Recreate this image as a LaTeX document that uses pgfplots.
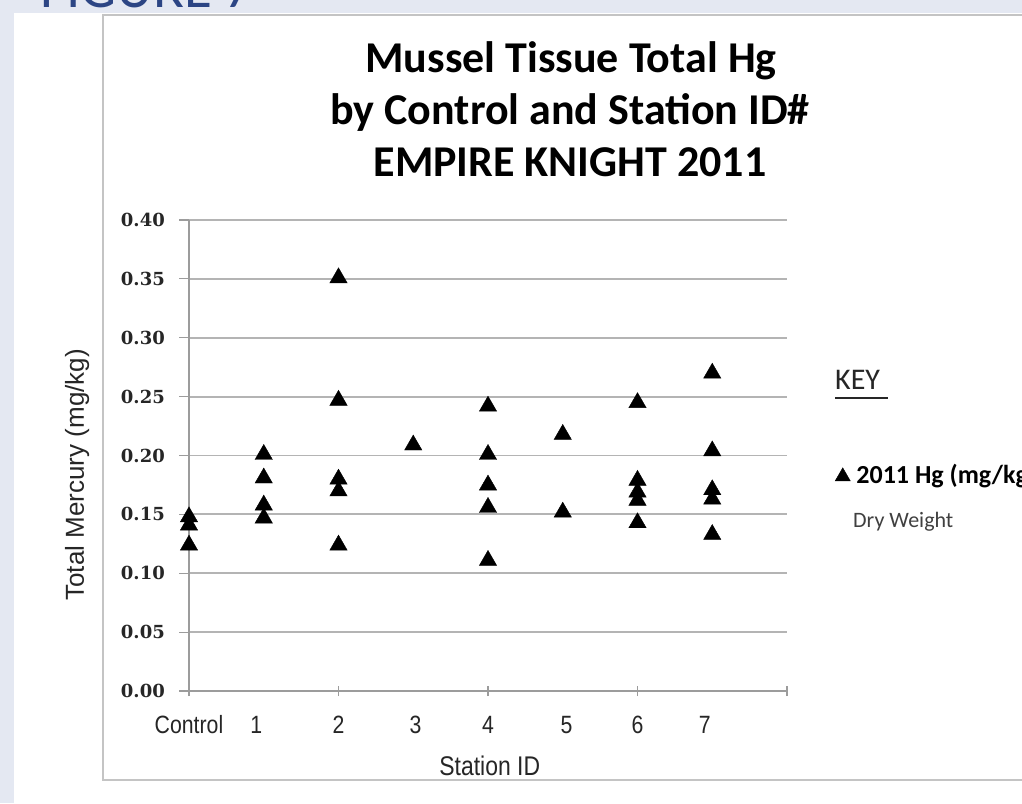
\documentclass[border=0pt]{standalone}
\usepackage{pgfplots}
\pgfplotsset{compat=1.18}
\usepackage{pgfplotstable}
\usepackage{fontspec}
\setmainfont{Liberation Sans}
\newfontfamily\calib{Carlito}
\newfontfamily\arialf{Liberation Sans}
\newfontfamily\arialn[FakeStretch=0.85]{Liberation Sans}
\newfontfamily\serifb{DejaVu Serif}
\definecolor{bgblue}{HTML}{E4E8F2}
\definecolor{figblue}{HTML}{2C4584}
\definecolor{gridgray}{HTML}{B4B4B4}
\definecolor{axisgray}{HTML}{9C9C9C}
\definecolor{bordergray}{HTML}{C4C4C4}

\pgfplotstableread{
x y
0 0.150
0 0.143
0 0.126
1 0.203
1 0.183
1 0.160
1 0.149
2 0.353
2 0.249
2 0.182
2 0.172
2 0.126
3 0.211
4 0.244
4 0.203
4 0.177
4 0.158
4 0.113
5 0.220
5 0.154
6 0.247
6 0.181
6 0.171
6 0.164
6 0.145
7 0.272
7 0.206
7 0.173
7 0.165
7 0.135
}\hgdata

\begin{document}
\begin{tikzpicture}[x=1pt,y=1pt]
\path[use as bounding box] (0,0) rectangle (1022,803);
\clip (0,0) rectangle (1022,803);
\fill[bgblue] (0,0) rectangle (1022,803);
\fill[white] (14,0) rectangle (1030,790);
\node[anchor=base west, inner sep=0, text=figblue, font=\calib\fontsize{57}{60}\selectfont] at (40,795) {FIGURE 7};
\draw[bordergray, line width=1.5pt] (103,23) rectangle (1040,788);

\node[anchor=base, inner sep=0, font=\calib\bfseries\fontsize{44}{50}\selectfont] at (571,730) {Mussel Tissue Total Hg};
\node[anchor=base, inner sep=0, font=\calib\bfseries\fontsize{44}{50}\selectfont] at (570,678) {by Control and Station ID\#};
\node[anchor=base, inner sep=0, font=\calib\bfseries\fontsize{44}{50}\selectfont] at (570,626) {EMPIRE KNIGHT 2011};

\node[anchor=base west, inner sep=0, font=\calib\fontsize{30}{32}\selectfont, text=black!85] at (835,413) {KEY};
\draw[black!85, line width=2pt] (835,405) -- (888,405);
\node[anchor=base west, inner sep=0, font=\calib\fontsize{22}{24}\selectfont, text=black!75] at (853,275) {Dry Weight};

\begin{axis}[
  at={(189pt,112pt)}, anchor=south west,
  scale only axis, width=598pt, height=471pt,
  xmin=0, xmax=8, ymin=0, ymax=0.4,
  clip=false,
  axis lines*=left,
  axis line style={axisgray, line width=1.2pt},
  ymajorgrids,
  grid style={gridgray, line width=1.8pt},
  ytick={0,0.05,0.1,0.15,0.2,0.25,0.3,0.35,0.4},
  yticklabel style={/pgf/number format/.cd, fixed, fixed zerofill, precision=2, assume math mode=true, /tikz/.cd,
    font=\serifb\bfseries\fontsize{18}{20}\selectfont, text=black!85, anchor=east, inner sep=0pt, xshift=-14pt},
  ytick align=outside, xtick align=center, major tick length=10pt,
  tick style={axisgray, line width=1.2pt},
  xtick={0,0.9,2,3.03,4,5.05,6,6.9},
  xticklabels={Control,1,2,3,4,5,6,7},
  xtick style={draw=none},
  xticklabel style={font=\arialn\fontsize{25}{27}\selectfont, anchor=base, yshift=-37pt, text=black!85},
  extra x ticks={0,2,4,6,8}, extra x tick labels={},
  extra x tick style={xtick style={draw=axisgray}},
  xlabel={Station ID},
  xlabel style={at={(axis description cs:0.503,-0.159)}, anchor=center, font=\arialn\fontsize{27}{29}\selectfont, text=black!85},
  ylabel={Total Mercury (mg/kg)},
  ylabel style={at={(axis description cs:-0.187,0.459)}, anchor=center, font=\arialf\fontsize{26}{28}\selectfont, text=black!85},
  legend style={at={(axis description cs:1.08,0.459)}, anchor=west, draw=none, fill=none, inner sep=0pt,
    font=\calib\bfseries\fontsize{26}{29}\selectfont},
  legend cell align=left,
  legend image code/.code={\fill[black] (0pt,-6pt) -- (15pt,-6pt) -- (7.5pt,7pt) -- cycle; \path (19pt,0pt);},
]
\addplot[only marks, mark=triangle*, mark size=10pt, mark options={fill=black, draw=black, yshift=-2.5pt}] table[x=x, y=y] {\hgdata};
\addlegendentry{2011 Hg (mg/kg)}
\end{axis}
\end{tikzpicture}
\end{document}
